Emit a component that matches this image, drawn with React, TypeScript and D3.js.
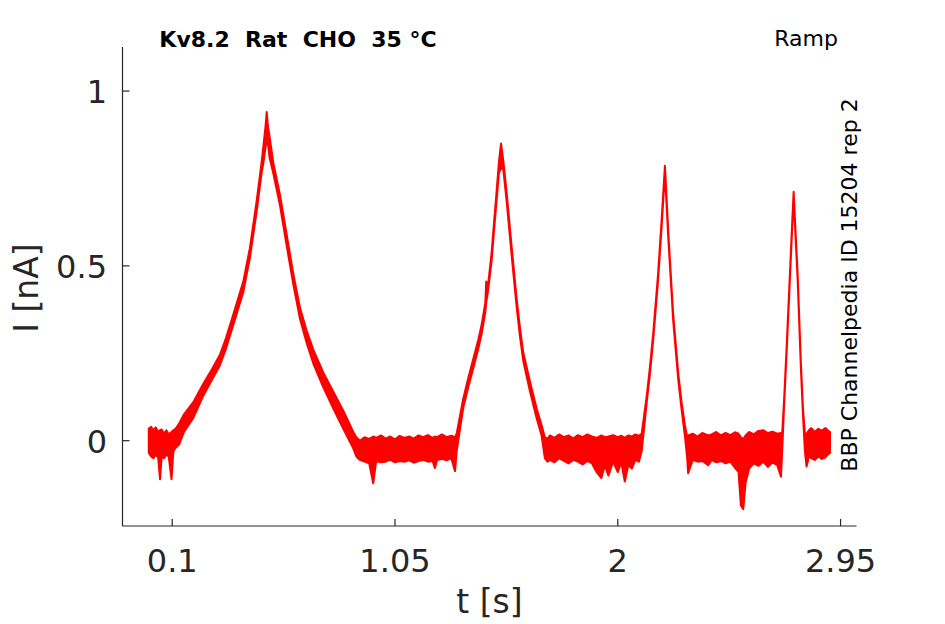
import * as d3 from 'd3'

// t [s]
const timeS = [
  // baseline
  0, 0.01, 0.02, 0.03, 0.04, 0.048, 0.055, 0.065, 0.075, 0.085, 0.097, 0.105, 0.115,
  // ramp 1
  0.13, 0.15, 0.19, 0.232, 0.27, 0.303, 0.33, 0.36, 0.385, 0.403, 0.431, 0.46, 0.481, 0.49, 0.498,
  0.503, 0.508, 0.515, 0.531, 0.559, 0.588, 0.617, 0.645, 0.673, 0.702, 0.744, 0.787, 0.83, 0.872, 0.885,
  // baseline
  0.9, 0.92, 0.94, 0.957, 0.97, 0.99, 1.01, 1.03, 1.05, 1.07, 1.09, 1.11, 1.13, 1.15, 1.17, 1.19,
  1.21, 1.22, 1.23, 1.25, 1.27, 1.29, 1.306,
  // ramp 2
  1.313, 1.341, 1.362, 1.384, 1.405, 1.419, 1.435, 1.439, 1.446, 1.462, 1.472, 1.483, 1.493, 1.502,
  1.512, 1.526, 1.547, 1.569, 1.583, 1.597, 1.626, 1.654, 1.675, 1.689,
  // baseline
  1.7, 1.71, 1.73, 1.75, 1.77, 1.79, 1.81, 1.83, 1.85, 1.87, 1.89, 1.91, 1.93, 1.945, 1.96, 1.98,
  2.0, 2.015, 2.03, 2.045, 2.06, 2.075, 2.09,
  // ramp 3
  2.102, 2.123, 2.137, 2.151, 2.172, 2.187, 2.195, 2.201, 2.207, 2.215, 2.236, 2.258, 2.272, 2.286, 2.296,
  // baseline
  2.3, 2.32, 2.34, 2.36, 2.386, 2.4, 2.42, 2.44, 2.46, 2.48, 2.5, 2.515, 2.525, 2.535, 2.545, 2.56,
  2.58, 2.6, 2.62, 2.64, 2.66, 2.68, 2.696,
  // ramp 4
  2.701, 2.71, 2.72, 2.734, 2.744, 2.75, 2.756, 2.767, 2.781, 2.79, 2.798,
  // baseline
  2.805, 2.815, 2.825, 2.84, 2.855, 2.87, 2.885, 2.895, 2.905,
]

// I [nA], top of the noise band
const upperNA = [
  0.035, 0.04, 0.03, 0.038, 0.025, 0.03, 0.032, 0.02, 0.03, 0.018, 0.025, 0.03, 0.035,
  0.05, 0.075, 0.11, 0.162, 0.205, 0.245, 0.295, 0.36, 0.415, 0.455, 0.55, 0.685, 0.795, 0.85, 0.9,
  0.94, 0.9, 0.87, 0.795, 0.705, 0.59, 0.475, 0.38, 0.315, 0.26, 0.195, 0.14, 0.085, 0.025, 0.01,
  0.0, 0.01, 0.005, 0.012, 0.008, 0.015, 0.006, 0.012, 0.004, 0.014, 0.008, 0.012, 0.006, 0.015, 0.01, 0.016,
  0.008, 0.012, 0.01, 0.018, 0.01, 0.014, 0.01,
  0.02, 0.12, 0.178, 0.234, 0.288, 0.33, 0.393, 0.455, 0.44, 0.538, 0.622, 0.71, 0.795, 0.85,
  0.8, 0.71, 0.557, 0.405, 0.322, 0.252, 0.168, 0.092, 0.045, 0.01,
  0.005, 0.015, 0.008, 0.018, 0.01, 0.015, 0.006, 0.016, 0.01, 0.018, 0.012, 0.008, 0.015, 0.01, 0.012, 0.016,
  0.01, 0.014, 0.008, 0.015, 0.012, 0.018, 0.014,
  0.02, 0.125, 0.21, 0.306, 0.478, 0.632, 0.72, 0.786, 0.71, 0.602, 0.364, 0.192, 0.11, 0.045, 0.01,
  0.015, 0.02, 0.012, 0.022, 0.015, 0.018, 0.025, 0.015, 0.022, 0.016, 0.024, 0.02, 0.01, 0.005, 0.015, 0.025,
  0.018, 0.028, 0.03, 0.022, 0.026, 0.02, 0.022,
  0.02, 0.128, 0.268, 0.477, 0.628, 0.712, 0.628, 0.477, 0.22, 0.09, 0.02,
  0.02, 0.03, 0.036, 0.025, 0.034, 0.028, 0.036, 0.03, 0.025,
]

// I [nA], bottom of the noise band
const lowerNA = [
  -0.035, -0.045, -0.05, -0.04, -0.048, -0.11, -0.045, -0.05, -0.04, -0.045, -0.11, -0.03, -0.02,
  -0.01, 0.025, 0.065, 0.128, 0.175, 0.215, 0.265, 0.33, 0.385, 0.425, 0.522, 0.655, 0.765, 0.8, 0.84,
  0.86, 0.85, 0.81, 0.765, 0.675, 0.558, 0.445, 0.348, 0.28, 0.22, 0.153, 0.092, 0.033, -0.022, -0.045,
  -0.055, -0.06, -0.065, -0.122, -0.058, -0.062, -0.06, -0.055, -0.062, -0.058, -0.06, -0.056, -0.063, -0.058, -0.055, -0.06,
  -0.058, -0.078, -0.055, -0.052, -0.056, -0.05, -0.087,
  -0.03, 0.094, 0.152, 0.208, 0.262, 0.304, 0.367, 0.395, 0.425, 0.514, 0.598, 0.686, 0.765, 0.78,
  0.775, 0.686, 0.533, 0.381, 0.298, 0.228, 0.14, 0.064, 0.015, -0.05,
  -0.06, -0.055, -0.062, -0.05, -0.058, -0.065, -0.055, -0.06, -0.068, -0.058, -0.065, -0.09, -0.107, -0.07, -0.1, -0.06,
  -0.09, -0.062, -0.117, -0.07, -0.08, -0.055, -0.06,
  -0.03, 0.107, 0.19, 0.288, 0.46, 0.612, 0.7, 0.76, 0.69, 0.584, 0.346, 0.174, 0.09, 0.015, -0.05,
  -0.093, -0.055, -0.06, -0.058, -0.07, -0.055, -0.062, -0.058, -0.065, -0.06, -0.078, -0.09, -0.185, -0.196, -0.12, -0.08,
  -0.065, -0.072, -0.06, -0.075, -0.062, -0.07, -0.103,
  -0.03, 0.112, 0.252, 0.461, 0.612, 0.68, 0.612, 0.461, 0.204, 0.07, -0.03,
  -0.074, -0.045, -0.05, -0.055, -0.045, -0.052, -0.048, -0.04, -0.035,
]

const xTicks = [0.1, 1.05, 2, 2.95]
const yTicks = [0, 0.5, 1]
const xTickLabels = ['0.1', '1.05', '2', '2.95']
const yTickLabels = ['0', '0.5', '1']

const W = 945
const H = 624
const plot = { left: 122.5, right: 856.5, top: 47, bottom: 526 }
const ink = '#262626'
const font = '"DejaVu Sans", Verdana, sans-serif'

export default function App() {
  const x = d3.scaleLinear().domain([-0.112, 3.018]).range([plot.left, plot.right])
  const y = d3.scaleLinear().domain([-0.244, 1.126]).range([plot.bottom, plot.top])

  const n = Math.min(timeS.length, upperNA.length, lowerNA.length)
  const idx = d3.range(n)
  const band = d3.area<number>()
    .x(i => x(timeS[i]))
    .y0(i => y(lowerNA[i]))
    .y1(i => y(upperNA[i]))

  return (
    <svg
      width={W}
      height={H}
      viewBox={`0 0 ${W} ${H}`}
      style={{ position: 'absolute', left: 0, top: 0, background: '#fff' }}
      fontFamily={font}
    >
      <rect width={W} height={H} fill="#fff" />

      {/* trace */}
      <path d={band(idx) ?? ''} fill="#ff0000" stroke="#ff0000" strokeWidth={2} strokeLinejoin="round" />

      {/* axes */}
      <g stroke={ink} strokeWidth={1.2} fill="none">
        <line x1={plot.left} y1={plot.top} x2={plot.left} y2={plot.bottom} />
        <line x1={plot.left} y1={plot.bottom} x2={plot.right} y2={plot.bottom} />
        {xTicks.map(t => (
          <line key={`xt${t}`} x1={x(t)} x2={x(t)} y1={plot.bottom} y2={plot.bottom - 7} />
        ))}
        {yTicks.map(t => (
          <line key={`yt${t}`} x1={plot.left} x2={plot.left + 7} y1={y(t)} y2={y(t)} />
        ))}
      </g>

      <g fill={ink} fontSize={32}>
        {xTicks.map((t, i) => (
          <text key={`xl${t}`} x={x(t)} y={572} textAnchor="middle">{xTickLabels[i]}</text>
        ))}
        {yTicks.map((t, i) => (
          <text key={`yl${t}`} x={107} y={y(t) + 12} textAnchor="end">{yTickLabels[i]}</text>
        ))}
      </g>

      <text x={(plot.left + plot.right) / 2} y={613} textAnchor="middle" fontSize={33} fill={ink}>t [s]</text>
      <text transform="translate(38,288) rotate(-90)" textAnchor="middle" fontSize={33} fill={ink}>I [nA]</text>

      <text x={298} y={47} textAnchor="middle" fontSize={22} fontWeight="bold" fill="#000" style={{ whiteSpace: 'pre' }}>
        {'Kv8.2  Rat  CHO  35 °C'}
      </text>
      <text x={838} y={46} textAnchor="end" fontSize={22} fill="#000">Ramp</text>
      <text transform="translate(857,285) rotate(-90)" textAnchor="middle" fontSize={22} fill="#000">
        BBP Channelpedia ID 15204 rep 2
      </text>
    </svg>
  )
}
